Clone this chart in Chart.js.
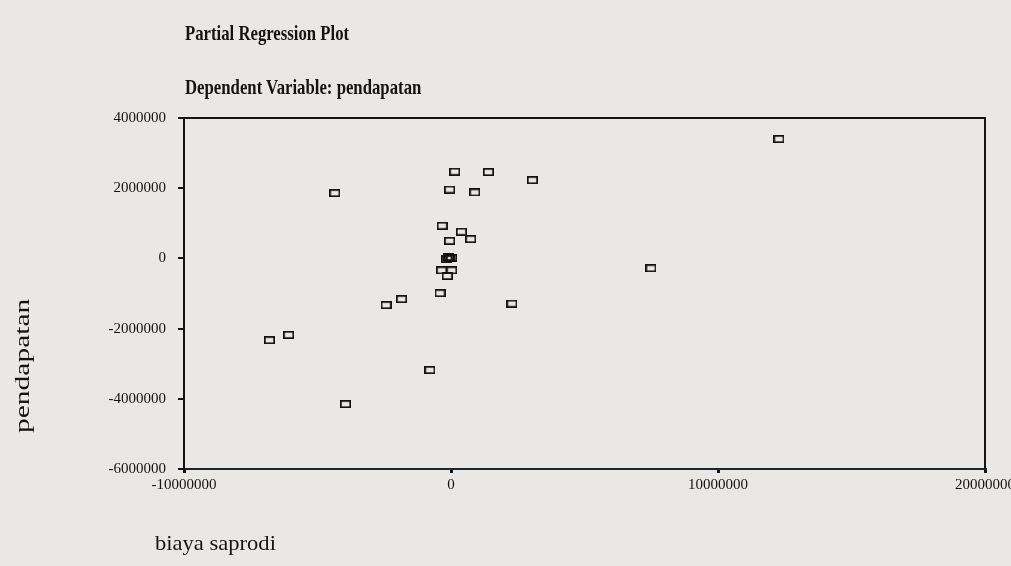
<!DOCTYPE html>
<html><head><meta charset="utf-8">
<script src="https://cdn.jsdelivr.net/npm/chart.js@4"></script>
<style>
html,body{margin:0;padding:0;background:#e9e8e5;}
#wrap{position:relative;width:1011px;height:566px;overflow:hidden;background:#e9e8e5;}
#c{position:absolute;left:0;top:0;}
.t{position:absolute;font-family:"Liberation Serif","Times New Roman",serif;color:#141414;white-space:nowrap;transform-origin:0 0;line-height:1;}
</style></head><body>
<div id="wrap">
<canvas id="c" width="1011" height="566"></canvas>
<div class="t" id="t1" data-w="164" style="left:185px;top:23px;font-size:21px;font-weight:bold;">Partial Regression Plot</div>
<div class="t" id="t2" data-w="236" style="left:185px;top:77px;font-size:21px;font-weight:bold;">Dependent Variable: pendapatan</div>
<div class="t" id="xt" data-w="121" style="left:155px;top:532px;font-size:22px;">biaya saprodi</div>
<div class="t" id="yt" data-w="134" data-rot="1" style="left:11px;top:433px;font-size:22px;">pendapatan</div>
</div>
<script>
// data
const xValues = [12280000, -4350000, 140000, 1400000, 3050000, -50000, 890000, -330000, 390000, 740000, -50000,
  -110000, -50000, 20000, -150000, -350000, 26000, -140000, -410000, 2280000, -1850000, -2430000,
  -6080000, -6800000, -790000, -3950000, 7490000];
const yValues = [3400000, 1860000, 2470000, 2460000, 2230000, 1960000, 1880000, 930000, 760000, 550000, 500000,
  40000, 0, 20000, -20000, -340000, -340000, -500000, -990000, -1290000, -1160000, -1330000,
  -2180000, -2330000, -3180000, -4150000, -280000];
const xTicks = [-10000000, 0, 10000000, 20000000];
const yTicks = [-6000000, -4000000, -2000000, 0, 2000000, 4000000];

const points = xValues.map((x, i) => ({x: x, y: yValues[i]}));

// rectangular hollow marker
const mk = document.createElement('canvas');
mk.width = 11; mk.height = 8;
const mctx = mk.getContext('2d');
mctx.strokeStyle = '#111111';
mctx.lineWidth = 1.7;
mctx.strokeRect(0.85, 0.85, 9.3, 6.3);

const frame = {
  id: 'frame',
  afterDraw(chart) {
    const a = chart.chartArea, ctx = chart.ctx;
    ctx.save();
    ctx.strokeStyle = '#151515';
    ctx.lineWidth = 2;
    ctx.beginPath();
    ctx.moveTo(a.left, a.top);
    ctx.lineTo(a.right, a.top);
    ctx.lineTo(a.right, a.bottom);
    ctx.stroke();
    ctx.restore();
  }
};

const tickFont = {family: '"Liberation Serif", serif', size: 15};

new Chart(document.getElementById('c'), {
  type: 'scatter',
  data: {datasets: [{data: points, pointStyle: mk, pointRadius: 5, pointHoverRadius: 5}]},
  options: {
    responsive: false,
    animation: false,
    events: [],
    layout: {padding: {left: 0, right: 26, top: 118, bottom: 0}},
    plugins: {legend: {display: false}, tooltip: {enabled: false}, title: {display: false}},
    scales: {
      x: {
        type: 'linear', position: 'bottom', min: xTicks[0], max: xTicks[xTicks.length - 1],
        afterBuildTicks: s => { s.ticks = xTicks.map(v => ({value: v})); },
        afterFit: s => { s.height = 97; s.paddingLeft = 0; s.paddingRight = 0; },
        grid: {drawOnChartArea: false, drawTicks: true, tickLength: 4, color: '#151515', lineWidth: 3},
        border: {display: true, color: '#1a2630', width: 2},
        ticks: {font: tickFont, color: '#141414', padding: 3, maxRotation: 0, autoSkip: false, callback: v => String(v)}
      },
      y: {
        type: 'linear', position: 'left', min: yTicks[0], max: yTicks[yTicks.length - 1],
        afterBuildTicks: s => { s.ticks = yTicks.map(v => ({value: v})); },
        afterFit: s => { s.width = 184; s.paddingTop = 0; s.paddingBottom = 0; },
        grid: {drawOnChartArea: false, drawTicks: true, tickLength: 6, color: '#151515', lineWidth: 2},
        border: {display: true, color: '#151515', width: 2},
        ticks: {font: tickFont, color: '#141414', padding: 12, autoSkip: false, callback: v => String(v)}
      }
    }
  },
  plugins: [frame]
});

// fit text widths to the reference
document.querySelectorAll('.t').forEach(el => {
  const w = el.offsetWidth;
  const s = (+el.dataset.w) / w;
  el.style.transform = el.dataset.rot ? 'rotate(-90deg) scaleX(' + s + ')' : 'scaleX(' + s + ')';
});
</script>
</body></html>
